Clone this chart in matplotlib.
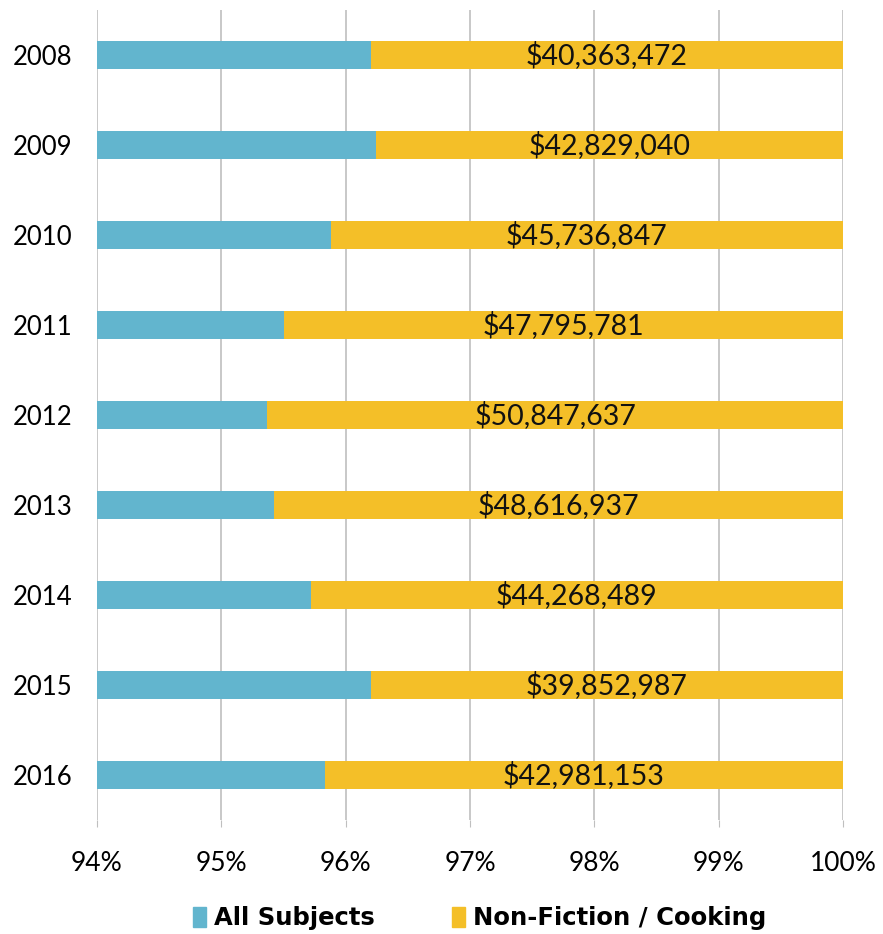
import matplotlib
matplotlib.use("Agg")
import matplotlib.pyplot as plt
from matplotlib.patches import Patch

years = ["2008", "2009", "2010", "2011", "2012", "2013", "2014", "2015", "2016"]
all_subjects = [96.20, 96.24, 95.88, 95.50, 95.37, 95.42, 95.72, 96.20, 95.83]
nonfiction_share = [100 - v for v in all_subjects]
labels = ["$40,363,472", "$42,829,040", "$45,736,847", "$47,795,781", "$50,847,637",
          "$48,616,937", "$44,268,489", "$39,852,987", "$42,981,153"]
xticks = [94, 95, 96, 97, 98, 99, 100]

blue = "#62B5CE"
yellow = "#F4BF28"

plt.rcParams['font.family'] = ['Lato', 'DejaVu Sans']
fig = plt.figure(figsize=(8.83, 9.34), dpi=100)
ax = fig.add_axes([97/883, 1 - 820/934, (843 - 97)/883, 810/934])

y = list(range(len(years)))
ax.barh(y, [v - 94 for v in all_subjects], left=94, height=0.31, color=blue, zorder=3)
ax.barh(y, nonfiction_share, left=all_subjects, height=0.31, color=yellow, zorder=3)

for yi, left, w, lab in zip(y, all_subjects, nonfiction_share, labels):
    ax.text(left + w / 2, yi, lab, ha='center', va='center', fontsize=20.5, color='#111111', zorder=4)

ax.set_xlim(94, 100)
ax.set_ylim(len(years) - 0.5, -0.5)
ax.set_yticks(y)
ax.set_yticklabels(years, fontsize=18.5)
ax.set_xticks(xticks)
ax.set_xticklabels([f"{t}%" for t in xticks], fontsize=19)
ax.tick_params(axis='y', length=0, pad=18)
ax.tick_params(axis='x', length=5, color='#BFBFBF', pad=17)
ax.grid(axis='x', color='#BFBFBF', linewidth=1.2, zorder=0)
for s in ax.spines.values():
    s.set_visible(False)

handles = [Patch(color=blue, label="All Subjects"), Patch(color=yellow, label="Non-Fiction / Cooking")]
fig.legend(handles=handles, loc='center', bbox_to_anchor=(0.543, 1 - 918/934), ncol=2, frameon=False,
           prop={'family': ['DejaVu Sans'], 'weight': 'bold', 'size': 17.5},
           handlelength=0.55, handleheight=0.9, handletextpad=0.3, columnspacing=3.2)

fig.savefig("out.png", dpi=100)
